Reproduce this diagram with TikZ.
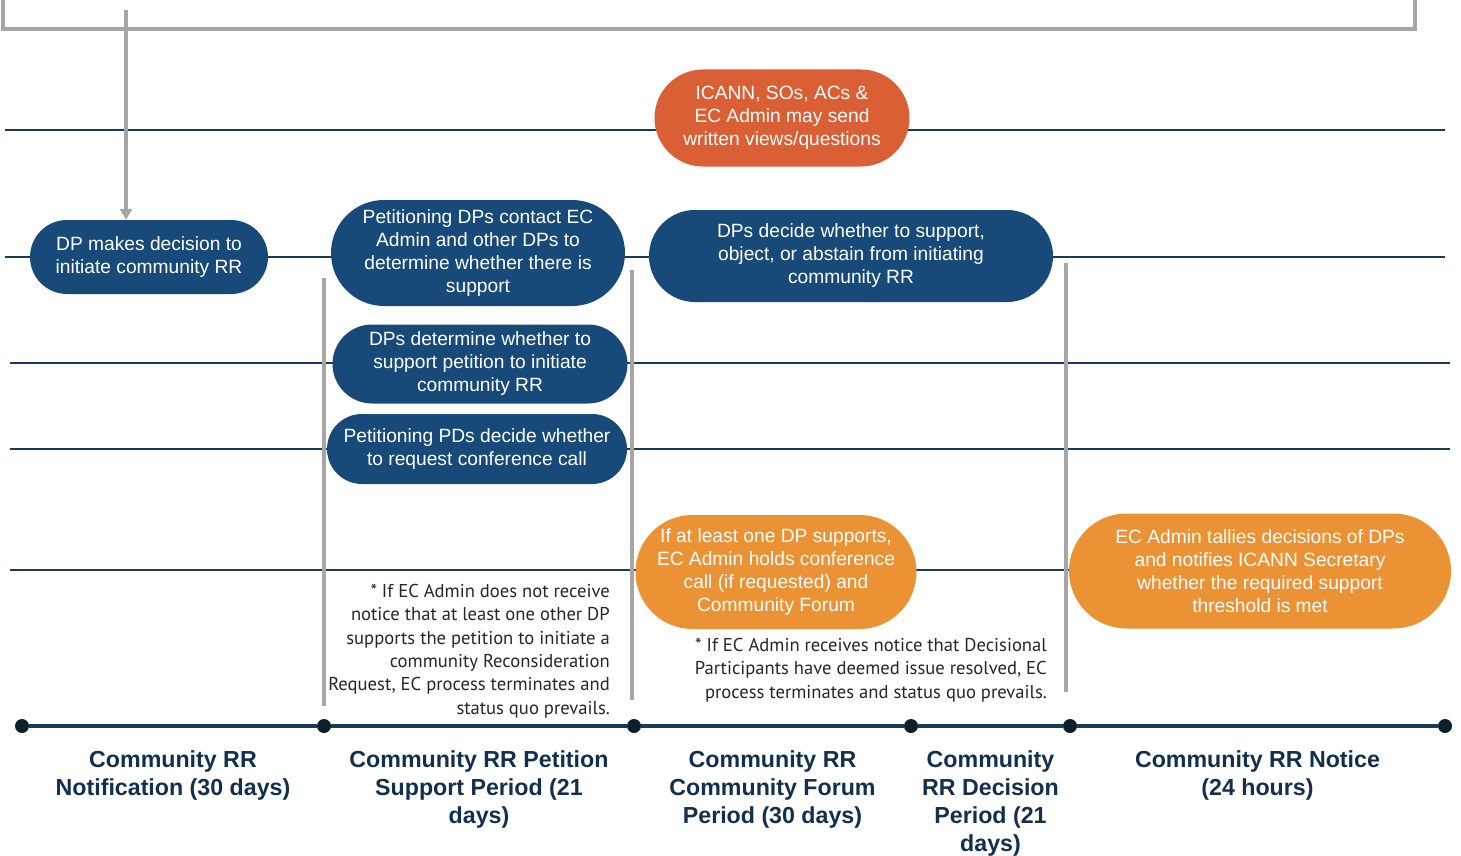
\documentclass[tikz,border=0pt]{standalone}
\usepackage{fontspec}
\setmainfont{Liberation Sans}
\newfontfamily\notefont{PT Sans}
\usetikzlibrary{shapes.misc,arrows.meta,calc}
\definecolor{navyfill}{HTML}{174A78}
\definecolor{lanecol}{HTML}{1B3A57}
\definecolor{redorange}{HTML}{DA5F34}
\definecolor{orangefill}{HTML}{EA9234}
\definecolor{grayline}{HTML}{A6A6A6}
\definecolor{labelcol}{HTML}{12304D}
\definecolor{dotcol}{HTML}{0D1F2A}
\definecolor{notecol}{HTML}{262626}
\begin{document}
\begin{tikzpicture}[x=1pt,y=-1pt,
		pill/.style={rounded rectangle, inner sep=0pt, align=center, text=white,
			font=\fontsize{19.2}{23}\selectfont},
		navypill/.style={pill, fill=navyfill},
		redpill/.style={pill, fill=redorange},
		orangepill/.style={pill, fill=orangefill},
		lane/.style={draw=lanecol, line width=2.6pt},
		divider/.style={draw=grayline, line width=3.5pt},
		dot/.style={circle, fill=dotcol, inner sep=0pt, minimum size=14pt},
		period/.style={anchor=north, align=center, text=labelcol, inner sep=0pt,
			font=\fontsize{23.2}{28}\selectfont\bfseries},
		note/.style={anchor=north east, align=right, text=notecol, inner sep=0pt,
			font=\notefont\fontsize{18.6}{23.3}\selectfont}]
	\useasboundingbox (0,0) rectangle (1461,856);
	% swim lanes
	\foreach \y/\xa/\xb in {130/5/1445, 257/5/1445, 363/10/1450, 449/10/1450, 570/10/1450}
		\draw[lane] (\xa,\y) -- (\xb,\y);
	% frame at the top
	\draw[divider] (3,-5) -- (3,29) -- (1415,29) -- (1415,-5);
	% steps
	\node[navypill, minimum width=238pt, minimum height=74pt] (decide) at (149,257)
		{DP makes decision to\\initiate community RR};
	\node[navypill, minimum width=294pt, minimum height=106pt] (contact) at (478,253)
		{Petitioning DPs contact EC\\Admin and other DPs to\\determine whether there is\\support};
	\node[redpill, minimum width=255pt, minimum height=97pt] (views) at (782,118)
		{ICANN, SOs, ACs \&\\EC Admin may send\\written views/questions};
	\node[navypill, minimum width=404pt, minimum height=92pt] (support) at (851,256)
		{DPs decide whether to support,\\object, or abstain from initiating\\community RR};
	\node[navypill, minimum width=295pt, minimum height=79pt] (petition) at (480,364)
		{DPs determine whether to\\support petition to initiate\\community RR};
	\node[navypill, minimum width=300pt, minimum height=70pt] (confcall) at (477,449)
		{Petitioning PDs decide whether\\to request conference call};
	\node[orangepill, minimum width=281pt, minimum height=114pt] (forum) at (776,572)
		{If at least one DP supports,\\EC Admin holds conference\\call (if requested) and\\Community Forum};
	\node[orangepill, minimum width=382pt, minimum height=115pt] (tally) at (1260,571)
		{EC Admin tallies decisions of DPs\\and notifies ICANN Secretary\\whether the required support\\threshold is met};
	% notes
	\node[note] (note1) at (610,584) {* If EC Admin does not receive\\notice that at least one other DP\\supports the petition to initiate a\\community Reconsideration\\Request, EC process terminates and\\status quo prevails.};
	\node[note] (note2) at (1047,638) {* If EC Admin receives notice that Decisional\\Participants have deemed issue resolved, EC\\process terminates and status quo prevails.};
	% period borders
	\draw[divider] (324,278) -- (324,706);
	\draw[divider] (632,270) -- (632,700);
	\draw[divider] (1066,263) -- (1066,692);
	% notification arrow
	\coordinate (src) at (126,10);
	\draw[divider, -{Triangle[width=12pt,length=11pt]}] (src) -- (src |- decide.north);
	% timeline
	\foreach \n/\x in {0/22, 1/324, 2/634, 3/911, 4/1070, 5/1445}
		\node[dot] (t\n) at (\x,726) {};
	\foreach \a/\b in {0/1, 1/2, 2/3, 3/4, 4/5}
		\draw[lane, line width=3.5pt] (t\a) -- (t\b);
	\node[period] (p0) at ($(t0)!0.5!(t1)+(0,24)$) {Community RR\\Notification (30 days)};
	\node[period] (p1) at ($(t1)!0.5!(t2)+(0,24)$) {Community RR Petition\\Support Period (21\\days)};
	\node[period] (p2) at ($(t2)!0.5!(t3)+(0,24)$) {Community RR\\Community Forum\\Period (30 days)};
	\node[period] (p3) at ($(t3)!0.5!(t4)+(0,24)$) {Community\\RR Decision\\Period (21\\days)};
	\node[period] (p4) at ($(t4)!0.5!(t5)+(0,24)$) {Community RR Notice\\(24 hours)};
\end{tikzpicture}
\end{document}
